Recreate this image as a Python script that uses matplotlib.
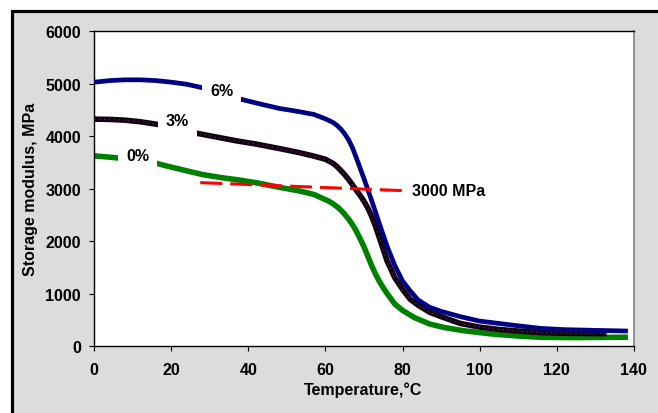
import matplotlib
matplotlib.use("Agg")
import matplotlib.pyplot as plt
from matplotlib import patches

plt.rcParams['font.family'] = ['Liberation Sans', 'DejaVu Sans']
plt.rcParams['font.weight'] = 'bold'
plt.rcParams['font.size'] = 11.5

## Data
# 6 %
x_6 = [0, 4, 8, 12, 16, 20, 24, 28, 33, 38, 43, 48, 53, 57, 60, 62, 63, 64, 65, 66,
       67, 68, 69, 70, 72, 74, 76, 78, 80, 82, 84, 87, 90, 95, 100, 105, 110, 116,
       122, 130, 138.5]
y_6 = [5030, 5060, 5075, 5075, 5060, 5030, 4990, 4925, 4820, 4705, 4615, 4530, 4470,
       4415, 4330, 4260, 4205, 4135, 4045, 3930, 3780, 3590, 3390, 3190, 2770, 2330,
       1900, 1535, 1240, 1050, 880, 740, 660, 560, 475, 430, 385, 335, 312, 298, 285]
# 3 %
x_3 = [0, 4, 8, 12, 16, 20, 24, 27, 32, 37, 42, 48, 53, 57, 60, 62, 63, 64, 65, 66,
       67, 68, 69, 70, 71, 72, 73, 74, 76, 78, 80, 82, 84, 87, 90, 95, 100, 105, 110,
       116, 122, 128, 133]
y_3 = [4325, 4320, 4305, 4275, 4230, 4170, 4100, 4050, 3980, 3910, 3850, 3765, 3690,
       3620, 3560, 3480, 3420, 3345, 3265, 3175, 3075, 2970, 2870, 2760, 2630, 2470,
       2280, 2060, 1620, 1300, 1080, 890, 780, 645, 560, 430, 360, 315, 285, 255, 242,
       238, 236]
# 0 %
x_0 = [0, 4, 7.5, 12, 16, 20, 24, 28, 33, 38, 43, 48, 53, 57, 60, 61, 62, 63, 64, 65,
       66, 67, 68, 69, 70, 71, 72, 73, 74, 75, 76, 78, 80, 83, 87, 91, 96, 103, 110,
       116, 125, 138.5]
y_0 = [3625, 3600, 3575, 3530, 3485, 3410, 3340, 3270, 3210, 3160, 3100, 3025, 2960,
       2890, 2790, 2755, 2710, 2655, 2590, 2510, 2420, 2315, 2190, 2045, 1890, 1710,
       1530, 1370, 1230, 1110, 1000, 800, 680, 545, 420, 350, 290, 230, 190, 165, 160,
       168]

# hand drawn 3000 MPa guide
ref_x = [27.5, 81.5]
ref_y = [3115, 2958]

labels = ['6%', '3%', '0%']
label_x = [33.1, 21.5, 11.3]
label_y = [4863, 4291, 3625]

W, H = 658, 414
fig = plt.figure(figsize=(W / 100, H / 100), dpi=100)
fig.patch.set_facecolor('white')

## grey frame with thick black edge (right/bottom edges fall off the picture)
frame = patches.Rectangle((11.5 / W, -0.2), 1.5, 1.2 - 11.5 / H,
                          transform=fig.transFigure, facecolor='#dcdcdc',
                          edgecolor='black', linewidth=2.3, zorder=-5)
fig.patches.append(frame)

l, r, t, b = 94.3, 633.7, 32.3, 347
ax = fig.add_axes([l / W, 1 - b / H, (r - l) / W, (b - t) / H])
ax.set_zorder(1)
ax.set_facecolor('white')

ax.plot(x_0, y_0, color='#008000', lw=4.0, solid_capstyle='butt', zorder=2)
ax.plot(x_3, y_3, color='#100010', lw=4.0, solid_capstyle='butt', zorder=3)
ax.plot(x_3, y_3, color='#5a1a60', lw=1.0, ls=(0, (1, 2.5)), zorder=3)
ax.plot(x_6, y_6, color='#000080', lw=3.4, solid_capstyle='butt', zorder=4)

ax.plot(ref_x, ref_y, color='#ff0000', lw=2.2, dashes=(7.2, 2.6), zorder=5)
ax.text(ref_x[1] + 1.0, ref_y[1], '3000 MPa', ha='left', va='center', zorder=6)

for lab, lx, ly in zip(labels, label_x, label_y):
    ax.text(lx, ly, lab, ha='center', va='center', zorder=7,
            bbox=dict(boxstyle='square,pad=0.5', facecolor='white', edgecolor='none'))

ax.set_xlim(0, 140)
ax.set_ylim(0, 6000)
ax.set_xticks(range(0, 141, 20))
ax.set_yticks(range(0, 6001, 1000))
ax.tick_params(direction='out', length=3.6, width=0.8, color='black')
ax.tick_params(axis='y', pad=6)
ax.tick_params(axis='x', pad=8)

for side in ['left', 'bottom', 'top']:
    ax.spines[side].set_color('black')
    ax.spines[side].set_linewidth(1.0)
ax.spines['right'].set_color('#7f7f7f')
ax.spines['right'].set_linewidth(1.2)

fig.text(363 / W, 1 - 395 / H, 'Temperature,\u00b0C', ha='center', va='baseline')
fig.text(30.5 / W, 1 - 189.5 / H, 'Storage modulus, MPa', ha='center', va='center',
         rotation=90)

fig.savefig('out.png', dpi=100)
